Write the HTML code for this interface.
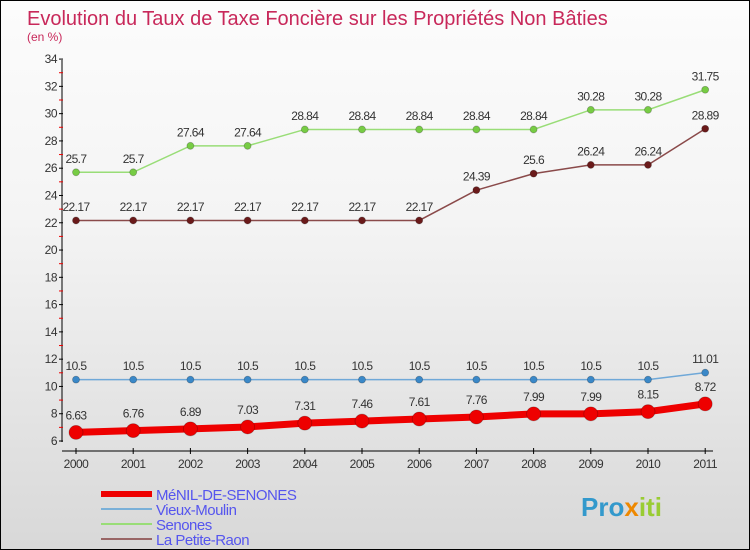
<!DOCTYPE html>
<html><head><meta charset="utf-8"><style>
body{margin:0}
#wrap{width:748px;height:548px;border:1px solid #000;background:linear-gradient(#fcfcfc,#f4f4f4 40%,#d8d8d8);position:relative;overflow:hidden;font-family:"Liberation Sans",sans-serif}
</style></head><body>
<div id="wrap">
<svg id="chart" width="748" height="548"></svg>
</div>
<script>
const years=[2000,2001,2002,2003,2004,2005,2006,2007,2008,2009,2010,2011];
const menil=[6.63,6.76,6.89,7.03,7.31,7.46,7.61,7.76,7.99,7.99,8.15,8.72];
const vieux=[10.5,10.5,10.5,10.5,10.5,10.5,10.5,10.5,10.5,10.5,10.5,11.01];
const senones=[25.7,25.7,27.64,27.64,28.84,28.84,28.84,28.84,28.84,30.28,30.28,31.75];
const petite=[22.17,22.17,22.17,22.17,22.17,22.17,22.17,24.39,25.6,26.24,26.24,28.89];
const yTicks=[6,8,10,12,14,16,18,20,22,24,26,28,30,32,34];
const NS="http://www.w3.org/2000/svg";
const svg=document.getElementById('chart');
const X=i=>75+i*57.2;
const Y=v=>440-(v-6)*13.64;
function mk(t,a,p){const e=document.createElementNS(NS,t);for(const k in a)e.setAttribute(k,a[k]);(p||svg).appendChild(e);return e;}
let t=mk('text',{x:26,y:24,fill:'#c8285a','font-size':20});t.textContent='Evolution du Taux de Taxe Foncière sur les Propriétés Non Bâties';


t=mk('text',{x:26,y:40,fill:'#c8285a','font-size':12});t.textContent='(en %)';


// axes
let ax=mk('line',{x1:61,y1:59,x2:61,y2:441,stroke:'#000','stroke-width':1});


ax=mk('line',{x1:61,y1:450,x2:712,y2:450,stroke:'#000','stroke-width':1});


yTicks.forEach((v,i)=>{const y=Y(v);
 mk('line',{x1:58,y1:y,x2:62,y2:y,stroke:'#000'});
 if(i<yTicks.length-1)mk('line',{x1:58,y1:Y(v+1),x2:62,y2:Y(v+1),stroke:'#e00'});
 const l=mk('text',{x:56,y:y+4,'text-anchor':'end','font-size':12,fill:'#333','letter-spacing':'-0.5'});l.textContent=v;
 
 
});
years.forEach((yr,i)=>{mk('line',{x1:X(i),y1:447,x2:X(i),y2:453,stroke:'#000'});
 const l=mk('text',{x:X(i),y:467,'text-anchor':'middle','font-size':12,fill:'#333','letter-spacing':'-0.5'});l.textContent=yr;
 
 
});
function series(vals,color,dot,w,r,name){
 const g=mk('g',{});
 
 
 mk('polyline',{points:vals.map((v,i)=>X(i)+','+Y(v)).join(' '),fill:'none',stroke:color,'stroke-width':w},g);
 vals.forEach((v,i)=>{const c=mk('circle',{cx:X(i),cy:Y(v),r:r,fill:dot,stroke:'rgba(0,0,0,0.25)','stroke-width':0.8},g);
  
  
  const l=mk('text',{x:X(i),y:Y(v)-(r+6),'text-anchor':'middle','font-size':12,fill:'#333','letter-spacing':'-0.6'},g);l.textContent=v;
  
  });
}
series(senones,'#99dd77','#77cc44',1.5,3.5,'senones-series');
series(petite,'#8a4a4a','#6a1a1a',1.5,3.5,'la-petite-raon-series');
series(vieux,'#6fa8d8','#3a88c8',1.5,3.5,'vieux-moulin-series');
series(menil,'#ee0000','#ee0000',7,7,'menil-de-senones-series');
const legend=[['MéNIL-DE-SENONES','#ee0000',6],['Vieux-Moulin','#7ab0d8',2],['Senones','#99dd77',2],['La Petite-Raon','#996666',2]];
legend.forEach((e,i)=>{const y=493+i*15;
 const g=mk('g',{});
 
 
 mk('line',{x1:100,y1:y,x2:151,y2:y,stroke:e[1],'stroke-width':e[2]},g);
 const l=mk('text',{x:155,y:y+6,'font-size':15,fill:'#5555ee','letter-spacing':'-0.5'},g);l.textContent=e[0];
});
const lg=mk('text',{x:580,y:515,'font-size':26,'font-weight':'bold',fill:'#3399cc'});
lg.innerHTML='<tspan fill="#3399cc">Pro</tspan><tspan fill="#ee8800">x</tspan><tspan fill="#99cc33">iti</tspan>';


</script>
</body></html>
